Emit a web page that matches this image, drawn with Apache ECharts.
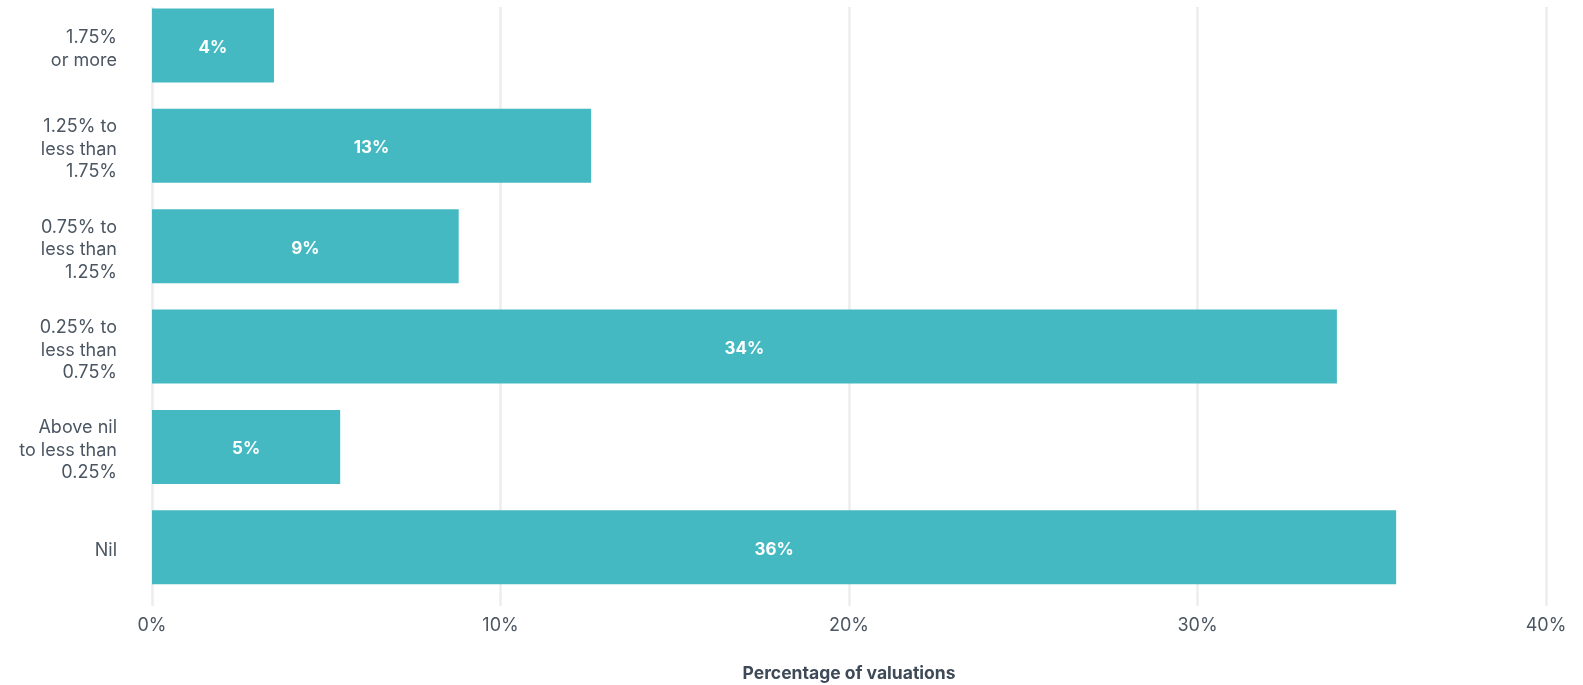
<!DOCTYPE html>
<html>
<head>
<meta charset="utf-8">
<script src="https://cdn.jsdelivr.net/npm/echarts@6/dist/echarts.min.js"></script>
<style>
html,body{margin:0;padding:0;background:#fff;}
#chart{width:1583px;height:685px;}
</style>
</head>
<body>
<div id="chart"></div>
<script>
// Categories listed bottom to top
const categories = [
  'Nil',
  'Above nil\nto less than\n0.25%',
  '0.25% to\nless than\n0.75%',
  '0.75% to\nless than\n1.25%',
  '1.25% to\nless than\n1.75%',
  '1.75%\nor more'
];
const values = [35.7, 5.4, 34.0, 8.8, 12.6, 3.5];
const xTicks = [0, 10, 20, 30, 40];
const axisTitle = 'Percentage of valuations';

const FONT = 'Inter, "Liberation Sans", Arial, sans-serif';
const TEXT = '#4b5662';

const chart = echarts.init(document.getElementById('chart'));
chart.setOption({
  animation: false,
  backgroundColor: '#ffffff',
  grid: [
    { left: 152, right: 37, top: 7, bottom: 79, outerBoundsMode: 'none', containLabel: false },
    { left: 152, right: 37, top: -4.7, bottom: 87.6, outerBoundsMode: 'none', containLabel: false },
    { left: 152, right: 37, top: -1.0, bottom: 83.9, outerBoundsMode: 'none', containLabel: false }
  ],
  xAxis: [
    {
      gridIndex: 0, type: 'value',
      min: xTicks[0], max: xTicks[xTicks.length - 1], interval: xTicks[1] - xTicks[0],
      axisLine: { show: false }, axisTick: { show: false },
      splitLine: { show: true, lineStyle: { color: '#ededed', width: 2.5 } },
      axisLabel: { formatter: '{value}%', color: TEXT, fontSize: 18, fontFamily: FONT, margin: 11 },
      name: axisTitle, nameLocation: 'middle', nameGap: 59,
      nameTextStyle: { color: '#3e4a57', fontSize: 17.5, fontWeight: 'bold', fontFamily: FONT }
    },
    {
      gridIndex: 1, type: 'value',
      min: xTicks[0], max: xTicks[xTicks.length - 1],
      show: false, splitLine: { show: false }
    },
    {
      gridIndex: 2, type: 'value',
      min: xTicks[0], max: xTicks[xTicks.length - 1],
      show: false, splitLine: { show: false }
    }
  ],
  yAxis: [
    { gridIndex: 0, type: 'category', data: categories, show: false },
    { gridIndex: 1, type: 'category', data: categories, show: false },
    {
      gridIndex: 2, type: 'category', data: categories,
      axisLine: { show: false }, axisTick: { show: false }, splitLine: { show: false },
      axisLabel: { color: TEXT, fontSize: 18, lineHeight: 22.5, fontFamily: FONT, margin: 35, align: 'right' }
    }
  ],
  series: [{
    type: 'bar',
    xAxisIndex: 1, yAxisIndex: 1,
    data: values,
    barWidth: 74,
    itemStyle: { color: '#45b9c1' },
    label: {
      show: true, position: 'inside', offset: [0, 2.5],
      color: '#ffffff', fontWeight: 'bold', fontSize: 17, fontFamily: FONT,
      formatter: p => Math.round(p.value) + '%'
    }
  }]
});
</script>
</body>
</html>
